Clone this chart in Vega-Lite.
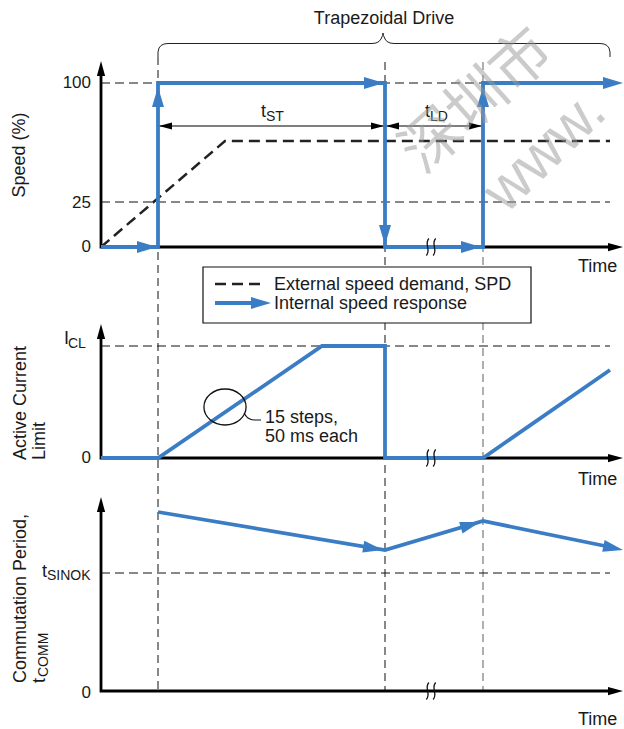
{
  "$schema": "https://vega.github.io/schema/vega-lite/v6.json",
  "width": 624,
  "height": 729,
  "autosize": {"type": "none"},
  "padding": 0,
  "background": "white",
  "config": {"view": {"stroke": null}, "text": {"font": "Liberation Sans", "fill": "#1a1a1a"}},
  "encoding": {
    "x": {"field": "x", "type": "quantitative", "scale": {"domain": [0, 624], "nice": false, "zero": false}, "axis": null},
    "y": {"field": "y", "type": "quantitative", "scale": {"domain": [0, 729], "nice": false, "zero": false, "reverse": true}, "axis": null}
  },
  "layer": [
    {
      "data": {"values": [{"x": 158, "y": 57, "y2": 690}, {"x": 385, "y": 62, "y2": 690}]},
      "mark": {"type": "rule", "stroke": "#111", "strokeWidth": 1, "strokeDash": [8, 5]},
      "encoding": {"y2": {"field": "y2"}}
    },
    {
      "data": {"values": [{"x": 483, "y": 62, "y2": 690}]},
      "mark": {"type": "rule", "stroke": "#7a7a7a", "strokeWidth": 1.2, "strokeDash": [8, 5]},
      "encoding": {"y2": {"field": "y2"}}
    },
    {
      "data": {"values": [
        {"x": 101, "x2": 610, "y": 83},
        {"x": 101, "x2": 610, "y": 202},
        {"x": 101, "x2": 610, "y": 346},
        {"x": 101, "x2": 610, "y": 573}
      ]},
      "mark": {"type": "rule", "stroke": "#111", "strokeWidth": 1, "strokeDash": [9, 5]},
      "encoding": {"x2": {"field": "x2"}}
    },
    {
      "data": {"values": [
        {"o": 0, "x": 158, "y": 57}, {"o": 1, "x": 158, "y": 52}, {"o": 2, "x": 159, "y": 48}, {"o": 3, "x": 161, "y": 45.5},
        {"o": 4, "x": 164, "y": 44}, {"o": 5, "x": 168, "y": 43.5}, {"o": 6, "x": 372, "y": 43.5}, {"o": 7, "x": 376, "y": 43},
        {"o": 8, "x": 379, "y": 41.5}, {"o": 9, "x": 381, "y": 39}, {"o": 10, "x": 382.5, "y": 35.5}, {"o": 11, "x": 383, "y": 33},
        {"o": 12, "x": 383.5, "y": 35.5}, {"o": 13, "x": 385, "y": 39}, {"o": 14, "x": 387, "y": 41.5}, {"o": 15, "x": 390, "y": 43},
        {"o": 16, "x": 394, "y": 43.5}, {"o": 17, "x": 600, "y": 43.5}, {"o": 18, "x": 604, "y": 44}, {"o": 19, "x": 607, "y": 45.5},
        {"o": 20, "x": 609, "y": 48}, {"o": 21, "x": 610, "y": 52}, {"o": 22, "x": 610, "y": 57}
      ]},
      "mark": {"type": "line", "stroke": "#222", "strokeWidth": 1},
      "encoding": {"order": {"field": "o", "type": "quantitative"}}
    },
    {
      "data": {"values": [{"x": 158, "x2": 483, "y": 126}]},
      "mark": {"type": "rule", "stroke": "#000", "strokeWidth": 1.2},
      "encoding": {"x2": {"field": "x2"}}
    },
    {
      "data": {"values": [
        {"x": 159, "y": 126, "a": 270}, {"x": 384, "y": 126, "a": 90},
        {"x": 386, "y": 126, "a": 270}, {"x": 482, "y": 126, "a": 90}
      ]},
      "mark": {"type": "point", "shape": "M0,0L0.55,2L-0.55,2Z", "size": 169, "filled": true, "fill": "#000", "strokeWidth": 0, "opacity": 1},
      "encoding": {"angle": {"field": "a", "type": "quantitative", "scale": null}}
    },
    {
      "data": {"values": [
        {"id": "s1", "o": 0, "x": 101, "y": 247}, {"id": "s1", "o": 1, "x": 225, "y": 141}, {"id": "s1", "o": 2, "x": 610, "y": 141}
      ]},
      "mark": {"type": "line", "stroke": "#222", "strokeWidth": 2.5, "strokeDash": [11, 6]},
      "encoding": {"detail": {"field": "id"}, "order": {"field": "o", "type": "quantitative"}}
    },
    {
      "data": {"values": [
        {"id": "a1", "o": 0, "x": 101, "y": 70}, {"id": "a1", "o": 1, "x": 101, "y": 247}, {"id": "a1", "o": 2, "x": 612, "y": 247},
        {"id": "a2", "o": 0, "x": 101, "y": 333}, {"id": "a2", "o": 1, "x": 101, "y": 458}, {"id": "a2", "o": 2, "x": 612, "y": 458},
        {"id": "a3", "o": 0, "x": 101, "y": 506}, {"id": "a3", "o": 1, "x": 101, "y": 691}, {"id": "a3", "o": 2, "x": 612, "y": 691}
      ]},
      "mark": {"type": "line", "stroke": "#000", "strokeWidth": 2.8, "strokeJoin": "miter"},
      "encoding": {"detail": {"field": "id"}, "order": {"field": "o", "type": "quantitative"}}
    },
    {
      "data": {"values": [
        {"x": 101, "y": 61, "a": 0}, {"x": 623, "y": 247, "a": 90},
        {"x": 101, "y": 324, "a": 0}, {"x": 623, "y": 458, "a": 90},
        {"x": 101, "y": 497, "a": 0}, {"x": 623, "y": 691, "a": 90}
      ]},
      "mark": {"type": "point", "shape": "M0,0L0.55,2L-0.55,2Z", "size": 225, "filled": true, "fill": "#000", "strokeWidth": 0, "opacity": 1},
      "encoding": {"angle": {"field": "a", "type": "quantitative", "scale": null}}
    },
    {
      "data": {"values": [{"x": 203, "x2": 531, "y": 267, "y2": 323}]},
      "mark": {"type": "rect", "fill": "white", "stroke": "#111", "strokeWidth": 1.2},
      "encoding": {"x2": {"field": "x2"}, "y2": {"field": "y2"}}
    },
    {
      "data": {"values": [{"o": 0, "x": 215, "y": 284}, {"o": 1, "x": 266, "y": 284}]},
      "mark": {"type": "line", "stroke": "#222", "strokeWidth": 2.5, "strokeDash": [11, 6]},
      "encoding": {"order": {"field": "o", "type": "quantitative"}}
    },
    {
      "data": {"values": [
        {"id": "b1", "o": 0, "x": 101, "y": 247}, {"id": "b1", "o": 1, "x": 158, "y": 247}, {"id": "b1", "o": 2, "x": 158, "y": 83},
        {"id": "b1", "o": 3, "x": 385, "y": 83}, {"id": "b1", "o": 4, "x": 385, "y": 247}, {"id": "b1", "o": 5, "x": 483, "y": 247},
        {"id": "b1", "o": 6, "x": 483, "y": 83}, {"id": "b1", "o": 7, "x": 610, "y": 83},
        {"id": "b2", "o": 0, "x": 101, "y": 458}, {"id": "b2", "o": 1, "x": 158, "y": 458}, {"id": "b2", "o": 2, "x": 322, "y": 346},
        {"id": "b2", "o": 3, "x": 385, "y": 346}, {"id": "b2", "o": 4, "x": 385, "y": 458}, {"id": "b2", "o": 5, "x": 483, "y": 458},
        {"id": "b2", "o": 6, "x": 610, "y": 370},
        {"id": "b3", "o": 0, "x": 158, "y": 512}, {"id": "b3", "o": 1, "x": 385, "y": 550}, {"id": "b3", "o": 2, "x": 483, "y": 521},
        {"id": "b3", "o": 3, "x": 610, "y": 547},
        {"id": "b4", "o": 0, "x": 215, "y": 303}, {"id": "b4", "o": 1, "x": 255, "y": 303}
      ]},
      "mark": {"type": "line", "stroke": "#3a7dc4", "strokeWidth": 3.8, "strokeJoin": "miter"},
      "encoding": {"detail": {"field": "id"}, "order": {"field": "o", "type": "quantitative"}}
    },
    {
      "data": {"values": [
        {"x": 157, "y": 247, "a": 90}, {"x": 158, "y": 87, "a": 0}, {"x": 384, "y": 83, "a": 90},
        {"x": 385, "y": 245, "a": 180}, {"x": 481, "y": 247, "a": 90}, {"x": 483, "y": 87, "a": 0},
        {"x": 623, "y": 83, "a": 90}, {"x": 383, "y": 550, "a": 99.5}, {"x": 480, "y": 522, "a": 73.5},
        {"x": 623, "y": 550, "a": 101.7}, {"x": 271, "y": 303, "a": 90}
      ]},
      "mark": {"type": "point", "shape": "M0,0L0.6,2L-0.6,2Z", "size": 400, "filled": true, "fill": "#3a7dc4", "strokeWidth": 0, "opacity": 1},
      "encoding": {"angle": {"field": "a", "type": "quantitative", "scale": null}}
    },
    {
      "data": {"values": [{"x": 225, "y": 407}]},
      "mark": {"type": "point", "shape": "M-1.17,0C-1.17,-0.552,-0.646,-1,0,-1C0.646,-1,1.17,-0.552,1.17,0C1.17,0.552,0.646,1,0,1C-0.646,1,-1.17,0.552,-1.17,0Z", "size": 1296, "filled": false, "stroke": "#111", "strokeWidth": 1.3, "opacity": 1}
    },
    {
      "data": {"values": [{"o": 0, "x": 244, "y": 413}, {"o": 1, "x": 248, "y": 418}, {"o": 2, "x": 254, "y": 420}, {"o": 3, "x": 261, "y": 420}]},
      "mark": {"type": "line", "stroke": "#111", "strokeWidth": 1.2, "interpolate": "monotone"},
      "encoding": {"order": {"field": "o", "type": "quantitative"}}
    },
    {
      "data": {"values": [{"x": 431, "y": 247}, {"x": 431, "y": 458}, {"x": 431, "y": 691}]},
      "mark": {"type": "point", "shape": "M-0.25,-1C-0.85,-0.35,0.05,0.35,-0.55,1M0.55,-1C-0.05,-0.35,0.85,0.35,0.25,1", "size": 289, "filled": false, "stroke": "#111", "strokeWidth": 1.3, "opacity": 1}
    },
    {
      "data": {"values": [{"x": 384, "y": 24, "t": "Trapezoidal Drive"}]},
      "mark": {"type": "text", "align": "center", "baseline": "alphabetic", "fontSize": 18},
      "encoding": {"text": {"field": "t"}}
    },
    {
      "data": {"values": [
        {"x": 91, "y": 88, "t": "100"}, {"x": 91, "y": 208, "t": "25"}, {"x": 91, "y": 252, "t": "0"},
        {"x": 91, "y": 463, "t": "0"}, {"x": 91, "y": 698, "t": "0"}
      ]},
      "mark": {"type": "text", "align": "right", "baseline": "alphabetic", "fontSize": 17},
      "encoding": {"text": {"field": "t"}}
    },
    {
      "data": {"values": [
        {"x": 266, "y": 117, "t": "t"}, {"x": 430, "y": 117, "t": "t"},
        {"x": 69, "y": 344, "t": "I"}, {"x": 47, "y": 577, "t": "t"}
      ]},
      "mark": {"type": "text", "align": "right", "baseline": "alphabetic", "fontSize": 18},
      "encoding": {"text": {"field": "t"}}
    },
    {
      "data": {"values": [
        {"x": 266, "y": 121, "t": "ST"}, {"x": 430, "y": 121, "t": "LD"},
        {"x": 68, "y": 348, "t": "CL"}, {"x": 47, "y": 580, "t": "SINOK"}
      ]},
      "mark": {"type": "text", "align": "left", "baseline": "alphabetic", "fontSize": 14},
      "encoding": {"text": {"field": "t"}}
    },
    {
      "data": {"values": [
        {"x": 578, "y": 272, "t": "Time"}, {"x": 578, "y": 485, "t": "Time"}, {"x": 578, "y": 725, "t": "Time"},
        {"x": 274, "y": 290, "t": "External speed demand, SPD"}, {"x": 274, "y": 309, "t": "Internal speed response"},
        {"x": 265, "y": 423, "t": "15 steps,"}, {"x": 265, "y": 442, "t": "50 ms each"}
      ]},
      "mark": {"type": "text", "align": "left", "baseline": "alphabetic", "fontSize": 18},
      "encoding": {"text": {"field": "t"}}
    },
    {
      "data": {"values": [{"x": 25, "y": 155, "t": "Speed (%)"}]},
      "mark": {"type": "text", "align": "center", "baseline": "alphabetic", "fontSize": 18, "angle": 270},
      "encoding": {"text": {"field": "t"}}
    },
    {
      "data": {"values": [
        {"x": 26, "y": 460, "t": "Active Current"}, {"x": 45, "y": 460, "t": "Limit"},
        {"x": 26, "y": 683, "t": "Commutation Period,"}, {"x": 45, "y": 683, "t": "t"}
      ]},
      "mark": {"type": "text", "align": "left", "baseline": "alphabetic", "fontSize": 18, "angle": 270},
      "encoding": {"text": {"field": "t"}}
    },
    {
      "data": {"values": [{"x": 48, "y": 677, "t": "COMM"}]},
      "mark": {"type": "text", "align": "left", "baseline": "alphabetic", "fontSize": 14, "angle": 270},
      "encoding": {"text": {"field": "t"}}
    },
    {
      "data": {"values": [{"x": 478, "y": 102, "t": "深圳市"}]},
      "mark": {"type": "text", "align": "center", "baseline": "middle", "fontSize": 60, "angle": 318, "font": "Noto Sans CJK SC", "fill": "#999999", "opacity": 0.5},
      "encoding": {"text": {"field": "t"}}
    },
    {
      "data": {"values": [{"x": 545, "y": 152, "t": "www."}]},
      "mark": {"type": "text", "align": "center", "baseline": "middle", "fontSize": 60, "angle": 316, "font": "Liberation Sans", "fill": "#999999", "opacity": 0.5},
      "encoding": {"text": {"field": "t"}}
    }
  ]
}
